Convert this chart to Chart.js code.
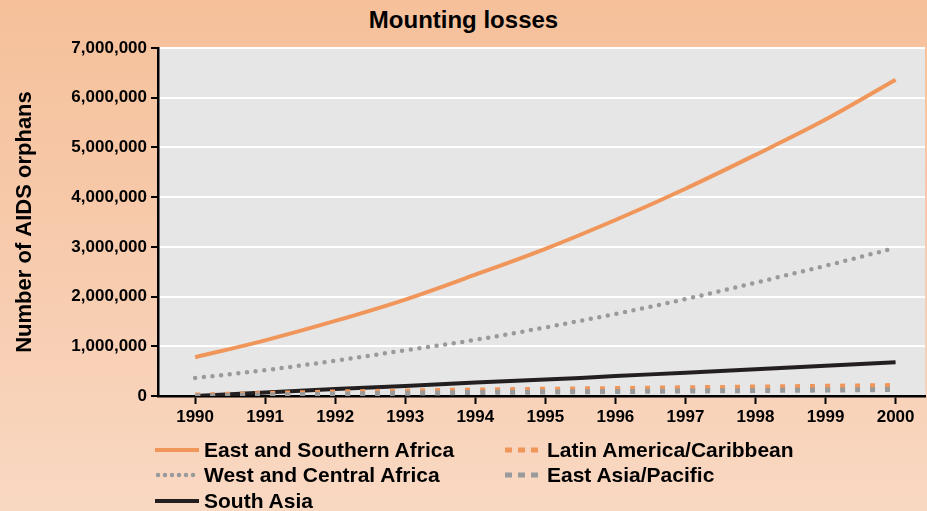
<!DOCTYPE html>
<html>
<head>
<meta charset="utf-8">
<script src="https://cdn.jsdelivr.net/npm/chart.js@4/dist/chart.umd.min.js"></script>
<style>
  html, body { margin: 0; padding: 0; }
  body {
    width: 927px; height: 511px; overflow: hidden; position: relative;
    background: linear-gradient(to bottom, #f5c09a 0%, #f7cbad 50%, #f9d8c2 100%);
    font-family: "Liberation Sans", Arial, sans-serif;
    font-weight: bold;
  }
  #title {
    position: absolute; left: 0; width: 927px; top: 6px;
    text-align: center; font-size: 24px; color: #000;
  }
  #chart { position: absolute; left: 0; top: 0; }
  .leg { position: absolute; font-size: 21px; color: #000; display: flex; align-items: center; height: 24px; white-space: nowrap; }
  .leg svg { margin-right: 5px; }
</style>
</head>
<body>
<div id="title">Mounting losses</div>
<canvas id="chart" width="927" height="511"></canvas>
<div id="legend"></div>
<script>
const years = [1990, 1991, 1992, 1993, 1994, 1995, 1996, 1997, 1998, 1999, 2000];
const eastSouthAfrica = [780000, 1120000, 1510000, 1940000, 2440000, 2960000, 3540000, 4170000, 4850000, 5560000, 6360000];
const westCentralAfrica = [360000, 520000, 710000, 920000, 1130000, 1380000, 1650000, 1950000, 2280000, 2620000, 2980000];
const southAsia = [0, 70000, 140000, 200000, 270000, 330000, 400000, 470000, 540000, 610000, 680000];
const latinAmerica = [20000, 50000, 80000, 100000, 120000, 135000, 150000, 165000, 180000, 195000, 210000];
const eastAsiaPacific = [0, 20000, 40000, 55000, 70000, 80000, 90000, 100000, 110000, 120000, 130000];
const yTicks = [0, 1000000, 2000000, 3000000, 4000000, 5000000, 6000000, 7000000];

const ORANGE = "#f0965a";
const GREY = "#999a9c";
const BLACK = "#231f20";

const series = [
    { label: "East and Southern Africa", data: eastSouthAfrica, color: ORANGE, width: 4, dash: [], legDash: [], cap: "butt" },
    { label: "West and Central Africa", data: westCentralAfrica, color: GREY, width: 4.5, dash: [0, 8.7], legDash: [0, 7], cap: "round" },
    { label: "South Asia", data: southAsia, color: BLACK, width: 4, dash: [], legDash: [], cap: "butt" },
    { label: "Latin America/Caribbean", data: latinAmerica, color: ORANGE, width: 5, dash: [5, 10], legDash: [7, 6], cap: "butt" },
    { label: "East Asia/Pacific", data: eastAsiaPacific, color: GREY, width: 5, dash: [5, 10], legDash: [7, 6], cap: "butt" }
];

const font = { family: '"Liberation Sans", Arial, sans-serif', weight: "bold", size: 17 };

new Chart(document.getElementById("chart"), {
    type: "line",
    data: {
        datasets: series.map(s => ({
            label: s.label,
            data: years.map((y, i) => ({ x: y, y: s.data[i] })),
            borderColor: s.color,
            borderWidth: s.width,
            borderDash: s.dash,
            borderCapStyle: s.cap,
            pointRadius: 0,
            tension: 0.35,
            fill: false
        })).reverse()
    },
    options: {
        responsive: false,
        animation: false,
        layout: { padding: { top: 48, right: 2, bottom: 85, left: 0 } },
        plugins: {
            legend: { display: false },
            tooltip: { enabled: false }
        },
        scales: {
            x: {
                type: "linear",
                min: 1989.47,
                max: 2000.42,
                afterBuildTicks: sc => { sc.ticks = years.map(v => ({ value: v })); },
                afterFit: sc => { sc.height = 30; },
                ticks: { color: "#000", font: font, padding: 3, maxRotation: 0, callback: v => String(v) },
                grid: { drawOnChartArea: false, tickColor: "#000", tickLength: 8, tickWidth: 2 },
                border: { color: "#000", width: 2.5 }
            },
            y: {
                min: 0,
                max: 7000000,
                afterBuildTicks: sc => { sc.ticks = yTicks.map(v => ({ value: v })); },
                afterFit: sc => { sc.width = 158; },
                ticks: { color: "#000", font: font, padding: 4, callback: v => v.toLocaleString("en-US") },
                grid: { color: "#ffffff", lineWidth: 2, tickColor: "#000", tickLength: 7, tickWidth: 2 },
                border: { color: "#000", width: 2.5 },
                title: { display: true, text: "Number of AIDS orphans", color: "#000", font: { family: font.family, weight: "bold", size: 22 }, padding: { top: 12, bottom: 4 } }
            }
        }
    },
    plugins: [{
        id: "plotBg",
        beforeDraw(chart) {
            const { ctx, chartArea: a } = chart;
            ctx.save();
            ctx.fillStyle = "#e6e6e6";
            ctx.fillRect(a.left, a.top, a.right - a.left, a.bottom - a.top);
            ctx.restore();
        }
    }]
});

// HTML legend, two columns like the original
const legendPos = [
    { x: 155, y: 438 }, { x: 155, y: 463 }, { x: 155, y: 489 },
    { x: 505, y: 438 }, { x: 505, y: 463 }
];
const legend = document.getElementById("legend");
series.forEach((s, i) => {
    const el = document.createElement("div");
    el.className = "leg";
    el.style.left = legendPos[i].x + "px";
    el.style.top = legendPos[i].y + "px";
    const w = i < 3 ? 44 : 37;
    const dash = s.legDash.length ? `stroke-dasharray="${s.legDash.join(" ")}"` : "";
    el.innerHTML = `<svg width="${w}" height="10"><line x1="${s.cap === "round" ? 3 : 0}" y1="5" x2="${w}" y2="5" stroke="${s.color}" stroke-width="${s.width}" stroke-linecap="${s.cap}" ${dash}/></svg>${s.label}`;
    legend.appendChild(el);
});
</script>
</body>
</html>
